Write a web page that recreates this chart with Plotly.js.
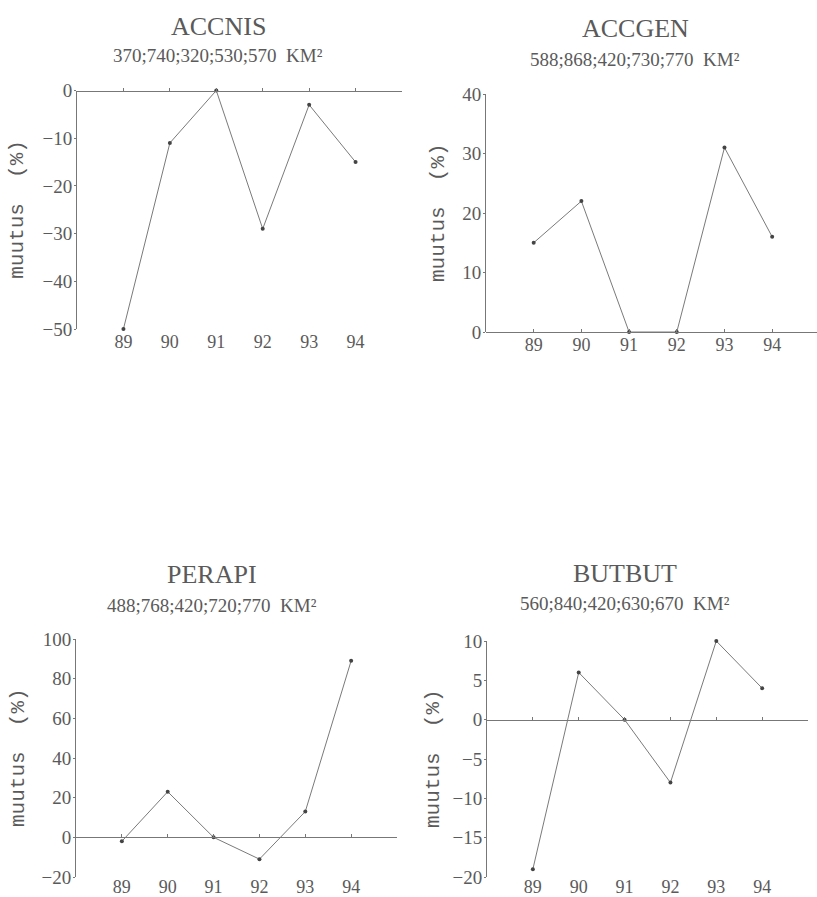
<!DOCTYPE html>
<html>
<head>
<meta charset="utf-8">
<script src="https://cdn.plot.ly/plotly-3.0.1.min.js"></script>
<style>html,body{margin:0;padding:0;background:#fff;}#chart{width:817px;height:897px;}</style>
</head>
<body>
<div id="chart"></div>
<script>
const years = [89, 90, 91, 92, 93, 94];
const yearLabels = ["89", "90", "91", "92", "93", "94"];

const titles = ["ACCNIS", "ACCGEN", "PERAPI", "BUTBUT"];
const subtitles = [
  "370;740;320;530;570  KM²",
  "588;868;420;730;770  KM²",
  "488;768;420;720;770  KM²",
  "560;840;420;630;670  KM²"
];

const accnis = [-50, -11, 0, -29, -3, -15];
const accgen = [15, 22, 0, 0, 31, 16];
const perapi = [-2, 23, 0, -11, 13, 89];
const butbut = [-19, 6, 0, -8, 10, 4];

const yTitle = "muutus  (%)";

const W = 817, H = 897;
const px = v => v / W;
const py = v => 1 - v / H;

const panels = [
  {data: accnis, xd: [77, 402], yd: [90.5, 329], xr: [88, 95], yr: [-50, 0], dt: 10, tx: 218, ty: 26, sy: 55, ytx: 18, xso: 0},
  {data: accgen, xd: [486, 817], yd: [94, 332], xr: [88, 94.94], yr: [0, 40], dt: 10, tx: 635, ty: 28, sy: 60, ytx: 438, xso: 0},
  {data: perapi, xd: [76, 397], yd: [639, 877], xr: [88, 95], yr: [-20, 100], dt: 20, tx: 212, ty: 574, sy: 605, ytx: 18, xso: -3},
  {data: butbut, xd: [487, 808], yd: [641, 877], xr: [88, 95], yr: [-20, 10], dt: 5, tx: 625, ty: 573, sy: 603, ytx: 433, xso: -3}
];

const textCol = "#5a5a5a";
const lineCol = "#777";
const traces = [];
const layout = {
  width: W, height: H,
  margin: {l: 0, r: 0, t: 0, b: 0},
  paper_bgcolor: "#fff", plot_bgcolor: "rgba(0,0,0,0)",
  showlegend: false,
  font: {family: "Liberation Serif", color: textCol},
  annotations: []
};

panels.forEach((p, i) => {
  const n = i + 1;
  const xs = n === 1 ? "" : String(n);
  const xName = "xaxis" + xs, yName = "yaxis" + xs;
  const xDom = [px(p.xd[0]), px(p.xd[1])];
  const yDom = [py(p.yd[1]), py(p.yd[0])];

  traces.push({
    x: years, y: p.data, xaxis: "x" + xs, yaxis: "y" + xs,
    type: "scatter", mode: "lines+markers",
    line: {color: "#7a7a7a", width: 1},
    marker: {color: "#444", size: 4},
    cliponaxis: false, hoverinfo: "skip"
  });

  layout[xName] = {
    domain: xDom, range: p.xr, anchor: "y" + xs,
    tickvals: years, ticktext: yearLabels,
    showline: false, showgrid: false, zeroline: false, ticks: "",
    ticklabelstandoff: p.xso,
    tickfont: {family: "Liberation Serif", size: 18, color: textCol},
    fixedrange: true
  };
  layout[yName] = {
    domain: yDom, range: p.yr, anchor: "x" + xs,
    dtick: p.dt, showline: true, linecolor: lineCol, linewidth: 1,
    showgrid: false, zeroline: false,
    ticks: "outside", ticklen: 2, tickcolor: lineCol,
    ticklabelstandoff: -2,
    tickfont: {family: "Liberation Serif", size: 19, color: textCol},
    fixedrange: true
  };
  const oi = n + 4;
  const zeroPos = yDom[0] + (0 - p.yr[0]) / (p.yr[1] - p.yr[0]) * (yDom[1] - yDom[0]);
  layout["xaxis" + oi] = {
    domain: xDom, range: p.xr, overlaying: "x" + xs, anchor: "free", position: zeroPos,
    tickvals: years, showticklabels: false,
    showline: true, linecolor: lineCol, linewidth: 1,
    ticks: "inside", ticklen: 3, tickcolor: lineCol,
    showgrid: false, zeroline: false, fixedrange: true
  };
  traces.push({x: [], y: [], xaxis: "x" + oi, yaxis: "y" + xs, type: "scatter", mode: "markers", hoverinfo: "skip"});

  layout.annotations.push({
    text: titles[i], x: px(p.tx), y: py(p.ty), xref: "paper", yref: "paper",
    xanchor: "center", yanchor: "middle", showarrow: false,
    font: {family: "Liberation Serif", size: 26, color: textCol}
  });
  layout.annotations.push({
    text: subtitles[i], x: px(p.tx), y: py(p.sy), xref: "paper", yref: "paper",
    xanchor: "center", yanchor: "middle", showarrow: false,
    font: {family: "Liberation Serif", size: 19, color: textCol}
  });
  layout.annotations.push({
    text: yTitle, x: px(p.ytx), y: py((p.yd[0] + p.yd[1]) / 2), xref: "paper", yref: "paper",
    xanchor: "center", yanchor: "middle", showarrow: false, textangle: -90,
    font: {family: "Liberation Mono", size: 21, color: textCol}
  });
});

Plotly.newPlot("chart", traces, layout, {displayModeBar: false, staticPlot: true});
</script>
</body>
</html>
